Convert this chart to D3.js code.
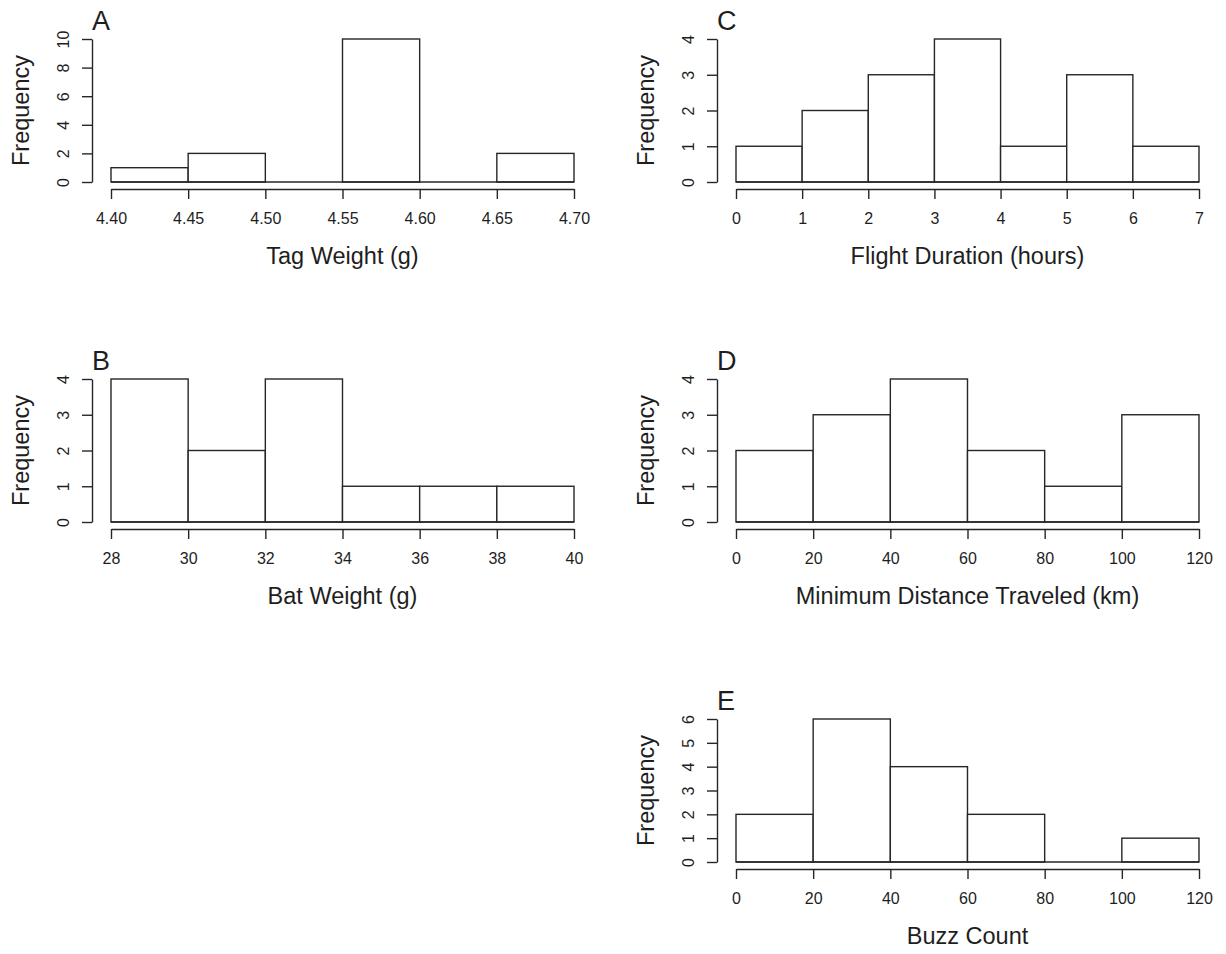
<!DOCTYPE html>
<html lang="en">
  <head>
    <meta charset="UTF-8" />
    <title>Bat tag histograms</title>
    <style>
      body {
        margin: 0;
        background: #ffffff;
      }
      svg text {
        font-family: "Liberation Sans", Arial, sans-serif;
        fill: #1e1e1e;
      }
      .axis path,
      .axis line {
        stroke: #262626;
        stroke-width: 1.4px;
      }
      .bar,
      .zero {
        fill: #ffffff;
        stroke: #262626;
        stroke-width: 1.4px;
      }
    </style>
  </head>
  <body>
    <script src="https://d3js.org/d3.v7.min.js"></script>
    <svg id="chart" width="1226" height="954"></svg>
    <script>
      // Histogram breaks and counts
      var tagBreaks = [4.4, 4.45, 4.5, 4.55, 4.6, 4.65, 4.7];
      var tagCounts = [1, 2, 0, 10, 0, 2];

      var batBreaks = [28, 30, 32, 34, 36, 38, 40];
      var batCounts = [4, 2, 4, 1, 1, 1];

      var flightBreaks = [0, 1, 2, 3, 4, 5, 6, 7];
      var flightCounts = [1, 2, 3, 4, 1, 3, 1];

      var distBreaks = [0, 20, 40, 60, 80, 100, 120];
      var distCounts = [2, 3, 4, 2, 1, 3];

      var buzzBreaks = [0, 20, 40, 60, 80, 100, 120];
      var buzzCounts = [2, 6, 4, 2, 0, 1];

      // y tick labels per panel
      var tagYTicks = [0, 2, 4, 6, 8, 10];
      var fourYTicks = [0, 1, 2, 3, 4];
      var buzzYTicks = [0, 1, 2, 3, 4, 5, 6];

      var panels = [
        { letter: "A", col: 0, row: 0, breaks: tagBreaks, counts: tagCounts, yTicks: tagYTicks, fmt: ".2f", title: "Tag Weight (g)" },
        { letter: "B", col: 0, row: 1, breaks: batBreaks, counts: batCounts, yTicks: fourYTicks, fmt: "d", title: "Bat Weight (g)" },
        { letter: "C", col: 1, row: 0, breaks: flightBreaks, counts: flightCounts, yTicks: fourYTicks, fmt: "d", title: "Flight Duration (hours)" },
        { letter: "D", col: 1, row: 1, breaks: distBreaks, counts: distCounts, yTicks: fourYTicks, fmt: "d", title: "Minimum Distance Traveled (km)" },
        { letter: "E", col: 1, row: 2, breaks: buzzBreaks, counts: buzzCounts, yTicks: buzzYTicks, fmt: "d", title: "Buzz Count" }
      ];

      var svg = d3.select("#chart");

      var plotW = 463, // width of the bins
        plotH = 143, // zero to top tick
        colLeft = [111, 736],
        rowBase = [182, 522, 862];

      panels.forEach(function (p) {
        var x0 = colLeft[p.col],
          base = rowBase[p.row];

        var x = d3
          .scaleLinear()
          .domain([p.breaks[0], p.breaks[p.breaks.length - 1]])
          .range([x0, x0 + plotW]);

        var y = d3
          .scaleLinear()
          .domain([0, d3.max(p.yTicks)])
          .range([base, base - plotH]);

        var g = svg.append("g");

        // bars
        var bins = p.counts.map(function (c, i) {
          return { lo: p.breaks[i], hi: p.breaks[i + 1], n: c };
        });
        g.selectAll("rect")
          .data(bins)
          .enter()
          .append("rect")
          .attr("class", "bar")
          .attr("x", function (d) { return x(d.lo); })
          .attr("width", function (d) { return x(d.hi) - x(d.lo); })
          .attr("y", function (d) { return y(d.n); })
          .attr("height", function (d) { return y(0) - y(d.n); });

        // empty bins still show as a flat line on zero
        g.append("line")
          .attr("class", "zero")
          .attr("x1", x(p.breaks[0]))
          .attr("x2", x(p.breaks[p.breaks.length - 1]))
          .attr("y1", y(0))
          .attr("y2", y(0));

        // x axis, a little below the bars like R does
        g.append("g")
          .attr("class", "axis")
          .attr("transform", "translate(0," + (base + 7) + ")")
          .call(
            d3.axisBottom(x)
              .tickValues(p.breaks)
              .tickFormat(d3.format(p.fmt))
              .tickSize(10)
              .tickSizeOuter(0)
              .tickPadding(14)
          )
          .call(function (a) {
            a.selectAll("text").style("font-size", "16px");
          });

        // y axis with rotated labels
        g.append("g")
          .attr("class", "axis")
          .attr("transform", "translate(" + (x0 - 19) + ",0)")
          .call(
            d3.axisLeft(y)
              .tickValues(p.yTicks)
              .tickFormat(d3.format("d"))
              .tickSize(10)
              .tickSizeOuter(0)
          )
          .call(function (a) {
            a.selectAll("text")
              .attr("x", null)
              .attr("dy", null)
              .attr("text-anchor", "middle")
              .attr("transform", "translate(-23,0) rotate(-90)")
              .style("font-size", "16px");
          });

        // axis titles
        g.append("text")
          .attr("x", x0 + plotW / 2)
          .attr("y", base + 82)
          .attr("text-anchor", "middle")
          .style("font-size", "23.5px")
          .text(p.title);

        g.append("text")
          .attr("transform", "translate(" + (x0 - 82) + "," + (base - plotH / 2) + ") rotate(-90)")
          .attr("text-anchor", "middle")
          .style("font-size", "23.5px")
          .text("Frequency");

        // panel letter
        g.append("text")
          .attr("x", x0 - 19)
          .attr("y", base - 152)
          .style("font-size", "27px")
          .text(p.letter);
      });
    </script>
  </body>
</html>
